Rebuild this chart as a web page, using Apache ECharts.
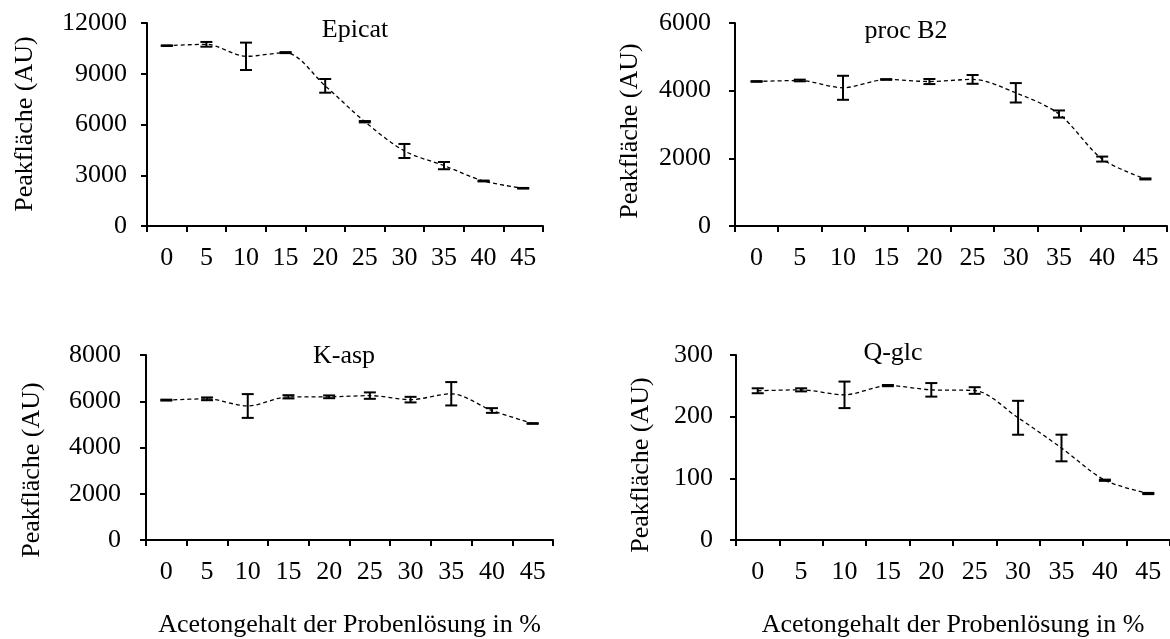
<!DOCTYPE html>
<html>
<head>
<meta charset="utf-8">
<script src="https://cdn.jsdelivr.net/npm/echarts@6/dist/echarts.min.js"></script>
<style>
  html, body { margin: 0; padding: 0; background: #fff; }
  #chart { width: 1170px; height: 639px; }
</style>
</head>
<body>
<div id="chart"></div>
<script>
// Acetone content of the sample solution (%)
const categories = ['0', '5', '10', '15', '20', '25', '30', '35', '40', '45'];

// Peak areas (mean) and standard deviations per analyte
const epicatMean = [10660, 10740, 10030, 10250, 8285, 6165, 4435, 3570, 2660, 2230];
const epicatSd   = [20, 140, 810, 30, 405, 40, 415, 215, 25, 20];

const procB2Mean = [4272, 4301, 4085, 4331, 4270, 4333, 3937, 3310, 1978, 1391];
const procB2Sd   = [10, 25, 355, 10, 75, 130, 287, 105, 74, 15];

const kaspMean = [6049, 6105, 5795, 6192, 6192, 6244, 6070, 6324, 5600, 5038];
const kaspSd   = [20, 60, 514, 70, 60, 139, 121, 505, 102, 15];

const qglcMean = [242, 243.5, 235.4, 250.4, 243.5, 242.4, 198.2, 149.2, 96.9, 75.4];
const qglcSd   = [4, 2.5, 21.5, 1, 11, 5.4, 27.5, 21.6, 1, 1];

// Y-axis scales
const yMax      = [12000, 6000, 8000, 300];
const yInterval = [3000, 2000, 2000, 100];

const panelTitles = ['Epicat', 'proc B2', 'K-asp', 'Q-glc'];
const yName = 'Peakfläche (AU)';
const xName = 'Acetongehalt der Probenlösung in %';

const FONT = "'Liberation Serif', 'Times New Roman', serif";
const FS = 26;

const panels = [
  { mean: epicatMean, sd: epicatSd, grid: { left: 147, top: 23, width: 396, height: 203 }, labelMargin: 20,
    title: [355, 30], yTitle: [25, 124], showXName: false },
  { mean: procB2Mean, sd: procB2Sd, grid: { left: 735, top: 23, width: 432, height: 203 }, labelMargin: 24,
    title: [906, 31], yTitle: [630, 131], showXName: false },
  { mean: kaspMean, sd: kaspSd, grid: { left: 146, top: 355, width: 407, height: 185 }, labelMargin: 25,
    title: [344, 356], yTitle: [32, 470], showXName: true },
  { mean: qglcMean, sd: qglcSd, grid: { left: 736, top: 355, width: 439, height: 186 }, labelMargin: 23,
    title: [893, 353], yTitle: [641, 465], showXName: true }
];

const axisLine = { show: true, lineStyle: { color: '#000', width: 2 } };
const axisTick = { show: true, length: 6, lineStyle: { color: '#000', width: 2 } };

function errorBarRender(params, api) {
  const i = api.value(0);
  const lo = api.coord([i, api.value(1)]);
  const hi = api.coord([i, api.value(2)]);
  const half = 6;
  const style = { stroke: '#000', lineWidth: 2, fill: null };
  return {
    type: 'group',
    children: [
      { type: 'line', shape: { x1: lo[0], y1: lo[1], x2: hi[0], y2: hi[1] }, style: style },
      { type: 'line', shape: { x1: lo[0] - half, y1: lo[1], x2: lo[0] + half, y2: lo[1] }, style: style },
      { type: 'line', shape: { x1: hi[0] - half, y1: hi[1], x2: hi[0] + half, y2: hi[1] }, style: style }
    ]
  };
}

const grids = [], xAxes = [], yAxes = [], series = [], graphics = [];

panels.forEach((p, k) => {
  grids.push(p.grid);
  xAxes.push({
    type: 'category',
    gridIndex: k,
    data: categories,
    boundaryGap: true,
    axisLine: axisLine,
    axisTick: Object.assign({ alignWithLabel: false, interval: 0 }, axisTick),
    axisLabel: { color: '#000', fontFamily: FONT, fontSize: FS, interval: 0, margin: 19 },
    splitLine: { show: false },
    name: p.showXName ? xName : '',
    nameLocation: 'middle',
    nameGap: 72,
    nameTextStyle: { color: '#000', fontFamily: FONT, fontSize: FS }
  });
  yAxes.push({
    type: 'value',
    gridIndex: k,
    min: 0,
    max: yMax[k],
    interval: yInterval[k],
    axisLine: axisLine,
    axisTick: axisTick,
    axisLabel: {
      color: '#000', fontFamily: FONT, fontSize: FS, margin: p.labelMargin,
      formatter: v => String(v)
    },
    splitLine: { show: false }
  });
  series.push({
    type: 'line',
    xAxisIndex: k,
    yAxisIndex: k,
    data: p.mean,
    symbol: 'none',
    smooth: 0.3,
    lineStyle: { color: '#000', width: 1.3, type: [4, 3] },
    z: 2
  });
  series.push({
    type: 'custom',
    xAxisIndex: k,
    yAxisIndex: k,
    renderItem: errorBarRender,
    encode: { x: 0, y: [1, 2] },
    data: p.mean.map((m, i) => [i, m - p.sd[i], m + p.sd[i]]),
    z: 3
  });
  graphics.push({
    type: 'text',
    x: p.title[0],
    y: p.title[1],
    style: { text: panelTitles[k], fill: '#000', font: FS + 'px ' + FONT, textAlign: 'center', textVerticalAlign: 'middle' }
  });
  graphics.push({
    type: 'text',
    x: p.yTitle[0],
    y: p.yTitle[1],
    rotation: Math.PI / 2,
    style: { text: yName, fill: '#000', font: FS + 'px ' + FONT, textAlign: 'center', textVerticalAlign: 'middle' }
  });
});

const chart = echarts.init(document.getElementById('chart'), null, { renderer: 'canvas' });
chart.setOption({
  backgroundColor: '#fff',
  animation: false,
  textStyle: { fontFamily: FONT },
  grid: grids,
  xAxis: xAxes,
  yAxis: yAxes,
  series: series,
  graphic: graphics
});
</script>
</body>
</html>
